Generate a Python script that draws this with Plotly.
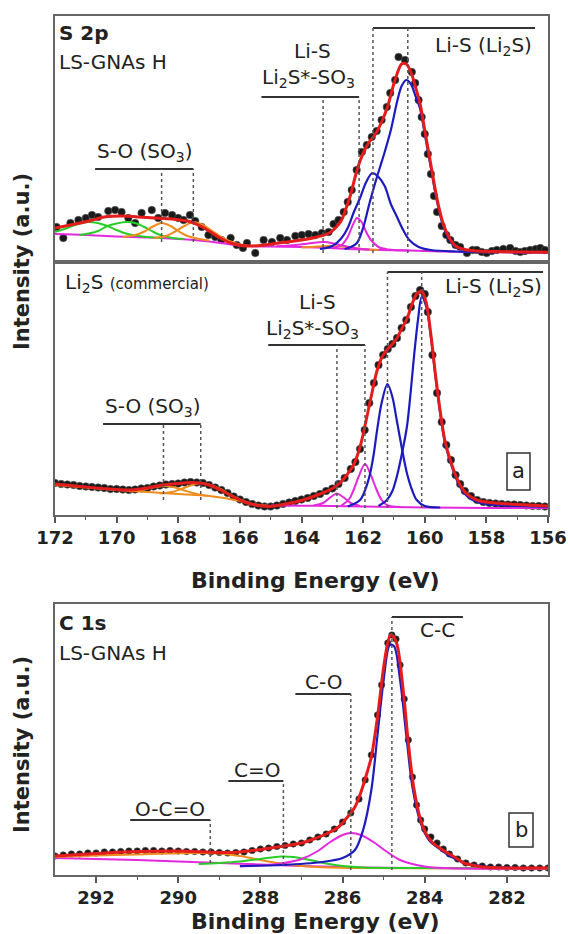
import plotly.graph_objects as go

W, H = 568, 934
FONT = "DejaVu Sans"

def PX(x):
    return x / W

def PY(y):
    return 1 - y / H

# ---------------- DATA (binding energy eV, intensity a.u.) ----------------
# Panel (a) top: S 2p, LS-GNAs H
top_points = [(171.95,35),(171.73,24),(171.5,39),(171.24,42),(171.0,44),(170.8,47),(170.6,45),(170.27,51),
              (170.05,52),(169.84,50),(169.62,44),(169.4,39),(169.19,49),(168.86,52),(168.65,44),(168.43,49),
              (168.2,47),(168.0,44),(167.83,42),(167.62,47),(167.45,41),(167.24,35),(167.02,27),(166.8,25),
              (166.6,22),(166.3,24),(166.1,17),(165.9,14),(165.77,19),(165.5,9),(165.23,22),(164.96,20),
              (164.69,24),(164.47,22),(164.2,26),(163.99,27),(163.77,28),(163.55,27),(163.34,29),(163.12,30),
              (162.96,38),(162.8,42),(162.63,50),(162.5,60),(162.37,72),(162.21,92),(162.04,110),(161.88,117),
              (161.72,125),(161.56,131),(161.4,142),(161.23,155),(161.12,169),(160.96,182),(160.85,205),
              (160.64,202),(160.42,190),(160.31,179),(160.2,162),(160.1,145),(160.0,128),(159.9,108),(159.8,88),
              (159.7,66),(159.6,50),(159.45,36),(159.3,27),(159.17,22),(159.0,17),(158.85,15),(158.63,9),
              (158.45,12),(158.31,12),(158.15,10),(157.99,9),(157.82,11),(157.66,12),(157.45,13),(157.23,14),
              (157.05,11),(156.9,10),(156.75,11),(156.58,12),(156.4,13),(156.25,14),(156.1,12)]
top_fit = [(172,34),(171.5,37),(170.9,41),(170.4,45),(169.8,46),(169.3,45),(168.75,44),(168.2,43),(167.7,41),
           (167.35,37),(167.0,31),(166.7,25),(166.3,19),(165.8,16),(165.2,17),(164.6,19.5),(164.0,22),(163.5,25),
           (163.1,29),(162.9,34),(162.7,42),(162.55,54),(162.4,68),(162.25,86),(162.1,101),(161.95,112),
           (161.8,120),(161.6,128),(161.4,140),(161.2,156),(161.05,173),(160.9,188),(160.75,198),(160.6,198),
           (160.45,190),(160.3,175),(160.15,158),(160.0,132),(159.8,97),(159.6,63),(159.4,38),(159.2,24),
           (159.0,16),(158.7,12.5),(158.3,11),(157.5,10.3),(156.0,9.8)]
top_background = [(172,28),(171,27),(170,25.5),(169,24.5),(168,23),(167.5,22),(167,20.5),(166.5,18.5),(166,16.5),
                  (165.5,15.8),(165,15.5),(164,15),(163.3,14.2),(162.5,13),(162,12.5),(161,11.8),(160,11),
                  (159,10.2),(158,9.8),(157,9.6),(156,9.5)]
top_green1 = [(172.0,30),(171.7,33),(171.4,36.5),(171.1,39),(170.9,40),(170.7,39.5),(170.5,38),(170.3,36),
              (170.0,32),(169.7,28.5),(169.4,26.5),(169.0,25),(168.5,24)]
top_green2 = [(171.2,27),(170.9,28.5),(170.6,31),(170.3,36),(170.0,38.5),(169.7,40),(169.4,39),(169.1,35),
              (168.8,30),(168.5,26),(168.2,24),(167.8,23)]
top_orange1 = [(169.8,25),(169.4,27),(169.1,30.5),(168.85,35),(168.54,39),(168.25,36),(168.0,31),(167.7,26),
               (167.3,23),(167.0,21.5)]
top_orange2 = [(168.8,24),(168.4,26),(168.1,30.5),(167.8,36),(167.51,40),(167.2,37),(166.9,31),(166.6,25),
               (166.3,20.5),(166.0,17.5),(165.7,16)]
top_orange3 = [(164.0,14.5),(163.5,15.5),(163.0,16),(162.5,15),(162.0,13),(161.5,12)]
top_mag1 = [(163.0,14),(162.7,17),(162.5,25),(162.35,36),(162.2,44),(162.05,40),(161.9,30),(161.75,22),
            (161.5,15),(161.2,12.5),(160.5,11.5)]
top_mag2 = [(164.8,15.8),(164.3,16.8),(163.9,18),(163.5,19.5),(163.25,20),(162.95,18.5),(162.6,16),
            (162.2,13.5),(161.8,12.5)]
top_blue1 = [(162.6,13),(162.4,15),(162.2,19),(162.0,34),(161.8,58),(161.6,80),(161.45,95),(161.3,110),
             (161.1,132),(160.9,160),(160.75,176),(160.6,182),(160.45,178),(160.3,166),(160.15,153),(160.0,128),
             (159.8,94),(159.6,60),(159.4,36),(159.2,22),(159.0,15),(158.7,12),(158.3,10.5),(157.5,10),(156,9.5)]
top_blue2 = [(163.4,13),(163.0,16),(162.7,24),(162.5,34),(162.3,50),(162.1,64),(161.9,80),(161.7,89),(161.5,85),
             (161.3,76),(161.1,58),(160.9,45),(160.7,32),(160.5,22),(160.2,15),(159.8,12),(159.0,10.5),(158.0,10)]
top_peaks = [168.54, 167.51, 163.3, 162.13, 161.68, 160.55]

# Panel (a) bottom: Li2S (commercial)
bot_points = [(172.0,32),(171.8,31),(171.6,30.5),(171.4,30),(171.2,29),(171.0,28.5),(170.8,28),(170.6,27.5),
              (170.4,27),(170.2,26),(170.0,26),(169.8,25.5),(169.6,25),(169.4,25.5),(169.2,26.5),(169.0,27),
              (168.8,28.5),(168.6,29.5),(168.4,30.5),(168.2,31),(168.0,31.5),(167.8,32.5),(167.6,33),(167.4,32.5),
              (167.2,32),(167.0,30),(166.8,27.5),(166.6,25),(166.4,22),(166.2,18.5),(166.0,15.5),(165.8,13),
              (165.6,11),(165.4,9.5),(165.2,8.5),(165.0,8.5),(164.8,9.5),(164.6,11),(164.4,12.5),(164.2,14),
              (164.0,15.5),(163.8,17),(163.6,19),(163.4,21),(163.2,24),(163.0,26.5),(162.8,31),(162.6,37),
              (162.4,46),(162.25,53),(162.1,66),(161.95,85),(161.8,112),(161.65,132),(161.5,150),(161.35,160),
              (161.2,166),(161.05,171),(160.9,177),(160.75,187),(160.6,195),(160.45,208),(160.3,219),(160.15,225),
              (160.0,221),(159.9,203),(159.75,160),(159.6,122),(159.45,93),(159.3,70),(159.15,55),(159.0,40),
              (158.85,31),(158.7,24),(158.5,19),(158.3,15),(158.1,13),(157.9,12),(157.7,11.5),(157.5,11),
              (157.3,10.5),(157.1,10.5),(156.9,10),(156.7,9.5),(156.5,9),(156.3,9),(156.1,8.5)]
bot_fit = [(172,31),(171,28),(170,25.5),(169.5,25),(169,27),(168.5,30),(168,31.5),(167.6,32.5),(167.3,32),
           (167,30),(166.6,24.5),(166.2,18),(165.8,12.5),(165.4,9.5),(165,8.5),(164.6,10.5),(164.2,13),
           (163.8,16.5),(163.4,21),(163.0,26.5),(162.75,32),(162.53,40),(162.31,50),(162.1,68),(161.9,95),
           (161.7,124),(161.56,143),(161.4,157),(161.23,165),(161.05,171),(160.9,177),(160.75,186),(160.58,196),
           (160.4,212),(160.26,221),(160.1,224),(159.95,212),(159.8,180),(159.65,140),(159.5,104),(159.35,75),
           (159.17,55),(158.96,37),(158.75,25),(158.5,18),(158.2,14),(157.7,12),(157,10.5),(156,9)]
bot_orange_bg = [(172,30),(171,27.5),(170,25),(169,23),(168,21),(167,19),(166.5,17),(166,14),(165.5,10.5),(165,9)]
bot_orange1 = [(169.6,23.5),(169.2,25),(168.9,27),(168.48,29),(168.1,27.5),(167.8,24.5),(167.4,21),(167.0,19)]
bot_orange2 = [(168.6,21.5),(168.2,23),(167.9,26),(167.6,29.5),(167.27,32),(166.95,30),(166.6,25.5),(166.3,20),
               (166.0,15.5),(165.7,12)]
bot_background = [(165,9.5),(164,9.3),(163,9),(162,8.5),(161,8),(160,7.5),(158,7),(156,7)]
bot_mag1 = [(162.7,9.5),(162.45,16),(162.31,25),(162.15,38),(161.94,51),(161.75,40),(161.56,25),(161.4,15),
            (161.2,9.5),(160.8,8)]
bot_mag2 = [(163.6,9.5),(163.3,12),(163.05,18),(162.85,21.5),(162.65,18),(162.4,12),(162.1,9)]
bot_blue1 = [(161.5,9),(161.23,15),(161.05,24),(160.91,38),(160.75,60),(160.58,88),(160.45,125),(160.36,155),
             (160.22,195),(160.1,218),(159.95,208),(159.8,178),(159.65,138),(159.5,102),(159.35,73),(159.17,53),
             (158.96,35),(158.75,23),(158.5,16),(158.2,12),(157.7,10),(157,9),(156,8)]
bot_blue2 = [(162.5,8.5),(162.1,15),(161.9,28),(161.77,42),(161.65,62),(161.56,82),(161.4,112),(161.21,131),
             (161.05,118),(160.91,95),(160.75,68),(160.58,42),(160.4,24),(160.26,15),(160.0,9),(159.5,7.5)]
bot_peaks = [168.48, 167.27, 162.85, 161.94, 161.21, 160.1]

# Panel (b): C 1s, LS-GNAs H
c_points = [(293.0,19),(292.8,20),(292.6,21),(292.4,21),(292.2,22),(292.0,22),(291.8,23),(291.6,23),(291.4,23.5),
            (291.2,24),(291.0,24),(290.8,24.5),(290.6,24.5),(290.4,24),(290.2,24.5),(290.0,24),(289.8,23.5),
            (289.6,23.5),(289.4,23),(289.2,23),(289.0,22.5),(288.8,22),(288.6,22.5),(288.4,23),(288.2,24.5),
            (288.0,26),(287.8,27),(287.6,28.5),(287.4,29.5),(287.2,31),(287.0,32),(286.8,35),(286.6,38),
            (286.4,41),(286.2,46),(286.0,53),(285.8,62),(285.6,76),(285.45,95),(285.3,120),(285.15,160),
            (285.05,190),(284.9,232),(284.8,240),(284.7,236),(284.6,210),(284.5,176),(284.4,135),(284.3,98),
            (284.2,70),(284.1,55),(284.0,46),(283.85,38),(283.7,32),(283.55,26),(283.4,21),(283.2,16),(283.0,12),
            (282.8,10),(282.6,9),(282.4,8),(282.2,8),(282.0,7.5),(281.8,7.5),(281.6,7),(281.4,7),(281.2,7),(281.0,7)]
c_fit = [(293,19),(292,21.5),(291,23.5),(290,24),(289,22.5),(288.5,23),(288,25.5),(287.5,28.5),(287,32),
         (286.7,36),(286.4,41),(286.1,48),(285.9,57),(285.7,68),(285.56,82),(285.4,103),(285.3,118),(285.15,158),
         (285.0,208),(284.9,232),(284.83,240),(284.75,238),(284.66,228),(284.5,175),(284.4,132),(284.27,88),
         (284.1,55),(283.95,40),(283.8,32),(283.6,26),(283.44,22),(283.2,16),(283.05,12),(282.8,9.5),(282.6,8),
         (282,7),(281,7)]
c_background = [(293,17),(292,16),(291,15),(290,13.5),(289,12),(288,10.5),(287,9),(286,8),(285,7.3),(284,7),
                (282,6.5),(281,6.5)]
c_orange = [(293,18),(292,19.5),(291,20.5),(290.2,21.5),(289.5,22),(289.0,21.5),(288.5,19),(288.0,15),(287.5,11.5),
            (287.0,9),(286.5,7.8),(285.5,7),(284,6.8),(281,6.5)]
c_green = [(289.5,11),(289,12),(288.5,13.5),(288,16),(287.5,18.5),(287.2,18),(286.8,15),(286.4,11.5),(286,9),
           (285.5,7.5),(284.5,7),(281,6.5)]
c_magenta = [(288.5,8.5),(288,9.5),(287.5,11.5),(287,16),(286.6,24),(286.3,33),(286.0,40),(285.8,42),(285.55,40),
             (285.25,33),(284.95,24),(284.6,15),(284.2,10),(283.8,7.5),(283,6.5),(281,6.5)]
c_blue = [(288.5,9),(287.5,10),(286.5,13),(286.0,17),(285.7,25),(285.5,45),(285.3,85),(285.15,140),(285.0,195),
          (284.85,230),(284.75,229),(284.6,195),(284.45,140),(284.3,88),(284.1,52),(283.9,35),(283.6,25),
          (283.3,17),(283.0,12),(282.5,8.5),(282,7.5),(281,7)]
c_peaks = [289.22, 287.44, 285.80, 284.80]

xa_ticks = [172, 170, 168, 166, 164, 162, 160, 158, 156]
xa_minor = [171, 169, 167, 165, 163, 161, 159, 157]
xb_ticks = [292, 290, 288, 286, 284, 282]
xb_minor = [291, 289, 287, 285, 283]

# ---------------- FIGURE ----------------
RED = "rgb(228,28,28)"
BLUE = "rgb(28,28,190)"
MAG = "rgb(228,40,222)"
GREEN = "rgb(40,205,40)"
ORANGE = "rgb(240,140,30)"

fig = go.Figure()

def unzip(pairs):
    return [p[0] for p in pairs], [p[1] for p in pairs]

def add_points(pairs, xa, ya, size=7.5):
    x, y = unzip(pairs)
    fig.add_trace(go.Scatter(x=x, y=y, mode="markers", xaxis=xa, yaxis=ya, showlegend=False,
                             hoverinfo="skip",
                             marker=dict(color="#1a1a1a", size=size, line=dict(color="#555", width=0.6))))

def add_line(pairs, color, width, xa, ya):
    x, y = unzip(pairs)
    fig.add_trace(go.Scatter(x=x, y=y, mode="lines", xaxis=xa, yaxis=ya, showlegend=False,
                             hoverinfo="skip",
                             line=dict(color=color, width=width, shape="spline", smoothing=0.9)))

# top panel of (a)
add_points(top_points, "x2", "y2")
for pairs, col in [(top_background, MAG), (top_green1, GREEN), (top_green2, GREEN), (top_orange1, ORANGE),
                   (top_orange2, ORANGE), (top_orange3, ORANGE), (top_mag2, MAG), (top_mag1, MAG)]:
    add_line(pairs, col, 2, "x2", "y2")
add_line(top_blue2, BLUE, 2.2, "x2", "y2")
add_line(top_blue1, BLUE, 2.2, "x2", "y2")
add_line(top_fit, RED, 3, "x2", "y2")

# bottom panel of (a)
add_points(bot_points, "x", "y")
for pairs, col in [(bot_orange_bg, ORANGE), (bot_orange1, ORANGE), (bot_orange2, ORANGE),
                   (bot_background, MAG), (bot_mag2, MAG), (bot_mag1, MAG)]:
    add_line(pairs, col, 2, "x", "y")
add_line(bot_blue2, BLUE, 2.2, "x", "y")
add_line(bot_blue1, BLUE, 2.2, "x", "y")
add_line(bot_fit, RED, 3, "x", "y")

# panel (b)
add_points(c_points, "x3", "y3", size=6.5)
for pairs, col in [(c_background, MAG), (c_orange, ORANGE), (c_green, GREEN), (c_magenta, MAG)]:
    add_line(pairs, col, 2, "x3", "y3")
add_line(c_blue, BLUE, 2.2, "x3", "y3")
add_line(c_fit, RED, 3, "x3", "y3")

# ---------------- markers of peak assignments ----------------
shapes = []

def vline(x, y0, y1, xr, yr):
    shapes.append(dict(type="line", xref=xr, yref=yr, x0=x, x1=x, y0=y0, y1=y1,
                       line=dict(color="#555", width=1.5, dash="dot")))

def hbar(x0, x1, y, xr, yr):
    shapes.append(dict(type="line", xref=xr, yref=yr, x0=x0, x1=x1, y0=y, y1=y,
                       line=dict(color="#333", width=2)))

# top panel (a)
hbar(170.7, top_peaks[1], 93, "x2", "y2")
vline(top_peaks[0], 20, 93, "x2", "y2")
vline(top_peaks[1], 20, 93, "x2", "y2")
hbar(165.3, top_peaks[3], 165, "x2", "y2")
vline(top_peaks[2], 9, 165, "x2", "y2")
vline(top_peaks[3], 9, 165, "x2", "y2")
hbar(top_peaks[4], 156.42, 234, "x2", "y2")
vline(top_peaks[4], 9, 234, "x2", "y2")
vline(top_peaks[5], 9, 234, "x2", "y2")

# bottom panel (a)
hbar(170.44, bot_peaks[1], 91, "x", "y")
vline(bot_peaks[0], 15, 91, "x", "y")
vline(bot_peaks[1], 15, 91, "x", "y")
hbar(165.08, bot_peaks[3], 170, "x", "y")
vline(bot_peaks[2], 7, 170, "x", "y")
vline(bot_peaks[3], 7, 170, "x", "y")
hbar(bot_peaks[4], 156.16, 243, "x", "y")
vline(bot_peaks[4], 7, 243, "x", "y")
vline(bot_peaks[5], 7, 243, "x", "y")

# panel (b)
hbar(291.17, c_peaks[0], 55, "x3", "y3")
vline(c_peaks[0], 12, 55, "x3", "y3")
hbar(288.78, c_peaks[1], 94, "x3", "y3")
vline(c_peaks[1], 10, 94, "x3", "y3")
hbar(287.15, c_peaks[2], 181, "x3", "y3")
vline(c_peaks[2], 5, 181, "x3", "y3")
hbar(c_peaks[3], 283.07, 258, "x3", "y3")
vline(c_peaks[3], 5, 258, "x3", "y3")

# boxes around panel letters
for x0, x1, y0, y1 in [(507, 530, 453, 490), (509, 533, 813, 847)]:
    shapes.append(dict(type="rect", xref="paper", yref="paper", x0=PX(x0), x1=PX(x1), y0=PY(y1), y1=PY(y0),
                       line=dict(color="#333", width=1.5)))

annotations = []

def label(text, x, y, size=20, anchor="center", bold=False, angle=0):
    annotations.append(dict(text=text, x=PX(x), y=PY(y), xref="paper", yref="paper", showarrow=False,
                            xanchor=anchor, yanchor="middle", textangle=angle,
                            font=dict(family=FONT, size=size, color="#222",
                                      weight="bold" if bold else "normal")))

label("S 2p", 57, 33, 20, "left", True)
label("LS-GNAs H", 57, 62, 20, "left")
label("S-O (SO<sub>3</sub>)", 145, 152, 20)
label("Li-S", 312, 51, 20)
label("Li<sub>2</sub>S*-SO<sub>3</sub>", 308, 78, 20)
label("Li-S (Li<sub>2</sub>S)", 483, 46, 20)

label("Li<sub>2</sub>S <span style='font-size:15px'>(commercial)</span>", 63, 283, 20, "left")
label("S-O (SO<sub>3</sub>)", 153, 407, 20)
label("Li-S", 317, 302, 20)
label("Li<sub>2</sub>S*-SO<sub>3</sub>", 312, 329, 20)
label("Li-S (Li<sub>2</sub>S)", 493, 287, 20)
label("a", 518.5, 471, 21)

label("C 1s", 57, 623, 20, "left", True)
label("LS-GNAs H", 57, 653, 20, "left")
label("O-C=O", 170, 809, 20)
label("C=O", 257, 770, 20)
label("C-O", 323, 682, 20)
label("C-C", 437, 630, 20)
label("b", 521, 830, 21)

label("Intensity (a.u.)", 22, 262, 21, bold=True, angle=-90)
label("Intensity (a.u.)", 22, 745, 21, bold=True, angle=-90)
label("Binding Energy (eV)", 315, 580, 22, bold=True)
label("Binding Energy (eV)", 315, 921, 22, bold=True)

common = dict(showgrid=False, zeroline=False, showline=True, linecolor="#666", linewidth=1.6, mirror=True,
              automargin=False)
tickfont = dict(family=FONT, size=18, color="#222", weight="bold")
xdom = [PX(55), PX(548)]

fig.update_layout(
    width=W, height=H, margin=dict(l=0, r=0, t=0, b=0, pad=0, autoexpand=False),
    paper_bgcolor="white", plot_bgcolor="white", showlegend=False,
    xaxis=dict(domain=xdom, anchor="y", range=[172, 156], tickmode="array", tickvals=xa_ticks,
               ticks="outside", ticklen=6, tickwidth=1.5, tickcolor="#555", tickfont=tickfont,
               minor=dict(tickmode="array", tickvals=xa_minor, ticks="outside", ticklen=3.5,
                          tickwidth=1.2, tickcolor="#555"), **common),
    yaxis=dict(domain=[PY(515), PY(262)], anchor="x", range=[0, 253], showticklabels=False, ticks="", **common),
    xaxis2=dict(domain=xdom, anchor="y2", range=[172, 156], showticklabels=False, ticks="", **common),
    yaxis2=dict(domain=[PY(262), PY(16)], anchor="x2", range=[0, 246], showticklabels=False, ticks="", **common),
    xaxis3=dict(domain=xdom, anchor="y3", range=[293, 281], tickmode="array", tickvals=xb_ticks,
                ticks="outside", ticklen=6, tickwidth=1.5, tickcolor="#555", tickfont=tickfont,
                minor=dict(tickmode="array", tickvals=xb_minor, ticks="outside", ticklen=3.5,
                           tickwidth=1.2, tickcolor="#555"), **common),
    yaxis3=dict(domain=[PY(875), PY(604)], anchor="x3", range=[0, 271], showticklabels=False, ticks="", **common),
    shapes=shapes, annotations=annotations,
)

fig.write_html("out.html")
